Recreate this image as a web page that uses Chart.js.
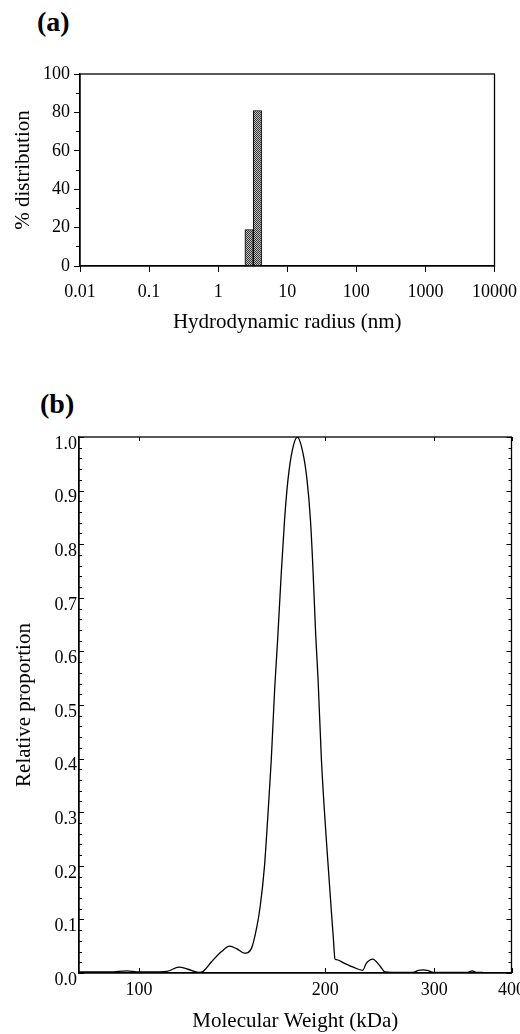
<!DOCTYPE html>
<html>
<head>
<meta charset="utf-8">
<script src="https://cdn.jsdelivr.net/npm/chart.js@4.4.1/dist/chart.umd.min.js"></script>
<style>
  html, body { margin: 0; padding: 0; background: #fff; }
  body { width: 520px; height: 1034px; position: relative; overflow: hidden; }
  .panel { position: absolute; font-family: "Liberation Serif", serif; font-weight: bold; font-size: 28px; line-height: 28px; color: #000; }
  canvas { position: absolute; left: 0; }
</style>
</head>
<body>
<div class="panel" style="left:37px; top:8px;">(a)</div>
<canvas id="chartA" width="526" height="345" style="top:0px;"></canvas>
<div class="panel" style="left:40px; top:390px;">(b)</div>
<canvas id="chartB" width="531" height="654" style="top:380px;"></canvas>
<script>
// (a) DLS size distribution
const radiusNm = [2.8, 3.7];
const distributionPct = [19, 81];
const radiusTicks = [0.01, 0.1, 1, 10, 100, 1000, 10000];

// (b) molecular weight distribution
const mwKDa = [80, 90, 95.5, 100, 104, 111, 116, 120, 125, 127, 131, 136, 140, 144, 148, 152, 155, 157, 159.5, 161.4, 163.6, 165.7, 167.5, 169.8, 171.9, 174.1, 177, 180.3, 184.1, 186.9, 189.3, 191.1, 193.1, 194.7, 197.2, 201, 204.7, 206, 207.4, 208.5, 215, 222, 229.9, 233, 238.7, 245.2, 250, 264, 277, 283, 288, 294, 299, 340, 345.5, 351, 360];
const relProportion = [0.002, 0.002, 0.004, 0.002, 0.002, 0.003, 0.011, 0.007, 0.001, 0.003, 0.021, 0.040, 0.050, 0.045, 0.037, 0.046, 0.085, 0.124, 0.198, 0.286, 0.397, 0.53, 0.62, 0.745, 0.845, 0.92, 0.976, 1.0, 0.97, 0.92, 0.845, 0.752, 0.627, 0.55, 0.397, 0.242, 0.112, 0.07, 0.026, 0.025, 0.018, 0.011, 0.005, 0.018, 0.026, 0.013, 0.002, 0.001, 0.001, 0.005, 0.006, 0.004, 0.001, 0.001, 0.004, 0.001, 0.001];
const mwTicks = [100, 200, 300, 400];

Chart.defaults.font.family = '"Liberation Serif", serif';
Chart.defaults.color = '#000';

const framePlugin = {
    id: 'frame',
    afterDatasetsDraw(chart) {
        const { ctx, chartArea: a } = chart;
        ctx.save();
        ctx.strokeStyle = '#000';
        ctx.lineWidth = 1.3;
        ctx.strokeRect(a.left, a.top, a.right - a.left, a.bottom - a.top);
        ctx.restore();
    }
};

// inward tick marks on all four sides (panel b)
const innerTicksPlugin = {
    id: 'innerTicks',
    afterDatasetsDraw(chart) {
        const { ctx, chartArea: a, scales } = chart;
        ctx.save();
        ctx.strokeStyle = '#000';
        ctx.lineWidth = 1;
        ctx.beginPath();
        scales.y.ticks.forEach(t => {
            const py = Math.round(scales.y.getPixelForValue(t.value)) + 0.5;
            const major = Math.abs(t.value * 10 - Math.round(t.value * 10)) < 1e-6;
            const len = major ? 5 : 3;
            ctx.moveTo(a.left, py); ctx.lineTo(a.left + len, py);
            ctx.moveTo(a.right, py); ctx.lineTo(a.right - len, py);
        });
        scales.x.ticks.forEach(t => {
            const px = Math.round(scales.x.getPixelForValue(t.value)) + 0.5;
            ctx.moveTo(px, a.bottom); ctx.lineTo(px, a.bottom - 5);
            ctx.moveTo(px, a.top); ctx.lineTo(px, a.top + 4);
        });
        ctx.stroke();
        ctx.restore();
    }
};

// shorter marks for the unlabelled y ticks of panel (a)
const minorTicksPlugin = {
    id: 'minorTicks',
    afterDraw(chart) {
        const { ctx, chartArea: a, scales } = chart;
        ctx.save();
        ctx.fillStyle = '#fff';
        scales.y.ticks.forEach(t => {
            if (t.value % 20 === 0) return;
            const py = scales.y.getPixelForValue(t.value);
            ctx.fillRect(a.left - 7, py - 1.5, 3, 3);
        });
        ctx.restore();
    }
};

function makeHatch(ctx) {
    const c = document.createElement('canvas');
    c.width = 2; c.height = 2;
    const g = c.getContext('2d');
    g.fillStyle = '#c4c4c4';
    g.fillRect(0, 0, 2, 2);
    g.fillStyle = '#333';
    g.fillRect(0, 0, 1, 1);
    g.fillRect(1, 1, 1, 1);
    return ctx.createPattern(c, 'repeat');
}

const ctxA = document.getElementById('chartA').getContext('2d');
new Chart(ctxA, {
    type: 'bar',
    data: {
        datasets: [{
            data: radiusNm.map((r, i) => ({ x: r, y: distributionPct[i] })),
            backgroundColor: makeHatch(ctxA),
            borderColor: '#000',
            borderWidth: 1,
            barPercentage: 1,
            categoryPercentage: 1
        }]
    },
    options: {
        responsive: false,
        animation: false,
        layout: { padding: { top: 74, right: 26, bottom: 0, left: 0 } },
        plugins: { legend: { display: false }, tooltip: { enabled: false } },
        scales: {
            x: {
                type: 'logarithmic',
                min: 0.01,
                max: 10000,
                offset: false,
                afterBuildTicks: s => { s.ticks = radiusTicks.map(v => ({ value: v })); },
                afterFit: s => { s.height = 79; },
                ticks: { callback: v => String(v), autoSkip: false, maxRotation: 0, padding: 9, font: { size: 18 } },
                grid: { drawOnChartArea: false, offset: false, tickLength: 6, color: '#000' },
                border: { color: '#000', width: 1.3 },
                title: { display: true, text: 'Hydrodynamic radius (nm)', font: { size: 21 }, padding: { top: 0, bottom: 10 } }
            },
            y: {
                min: 0,
                max: 100,
                afterFit: s => { s.width = 80; },
                ticks: { stepSize: 10, autoSkip: false, padding: 4, font: { size: 18 },
                    callback: v => (v % 20 === 0 ? v : '') },
                grid: { drawOnChartArea: false, tickLength: 6, color: '#000' },
                border: { color: '#000', width: 1.3 },
                title: { display: true, text: '% distribution', font: { size: 21 }, padding: { top: 11, bottom: 0 } }
            }
        }
    },
    plugins: [framePlugin, minorTicksPlugin]
});

const ctxB = document.getElementById('chartB').getContext('2d');
new Chart(ctxB, {
    type: 'line',
    data: {
        datasets: [{
            data: mwKDa.map((m, i) => ({ x: m, y: relProportion[i] })),
            borderColor: '#000',
            borderWidth: 1.3,
            pointRadius: 0,
            fill: false,
            cubicInterpolationMode: 'monotone'
        }]
    },
    options: {
        responsive: false,
        animation: false,
        layout: { padding: { top: 57, right: 14, bottom: 0, left: 0 } },
        plugins: { legend: { display: false }, tooltip: { enabled: false } },
        scales: {
            x: {
                type: 'logarithmic',
                min: 80,
                max: 400,
                afterBuildTicks: s => { s.ticks = mwTicks.map(v => ({ value: v })); },
                afterFit: s => { s.height = 61; },
                ticks: { callback: v => String(v), autoSkip: false, maxRotation: 0, padding: 6, font: { size: 18 } },
                grid: { display: false, drawTicks: false },
                border: { color: '#000', width: 1.3 },
                title: { display: true, text: 'Molecular Weight (kDa)', font: { size: 21 }, padding: { top: 0, bottom: 0 } }
            },
            y: {
                min: 0,
                max: 1,
                afterFit: s => { s.width = 79; },
                ticks: { stepSize: 0.02, autoSkip: false, padding: 2, labelOffset: 7, font: { size: 18 },
                    callback: v => (Math.abs(v * 10 - Math.round(v * 10)) < 1e-6 ? v.toFixed(1) : '') },
                grid: { display: false, drawTicks: false },
                border: { color: '#000', width: 1.3 },
                title: { display: true, text: 'Relative proportion', font: { size: 21 }, padding: { top: 12, bottom: 0 } }
            }
        }
    },
    plugins: [framePlugin, innerTicksPlugin]
});
</script>
</body>
</html>
